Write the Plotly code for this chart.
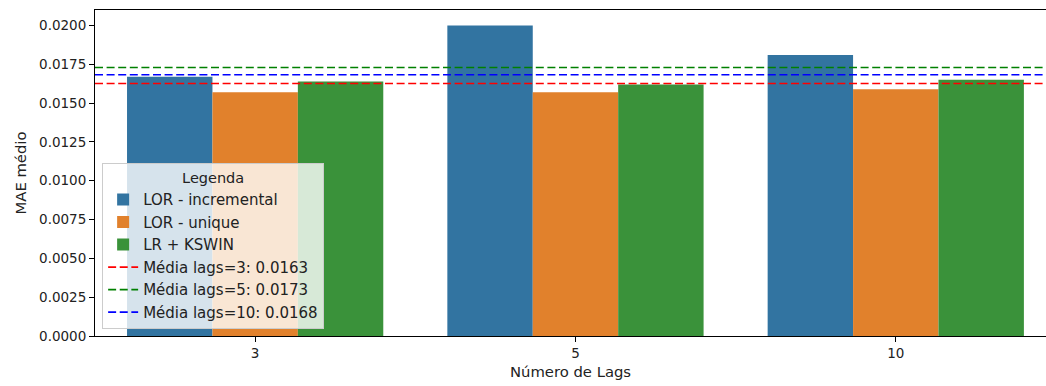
import numpy as np
import plotly.graph_objects as go

lags = ["3", "5", "10"]
series_names = ["LOR - incremental", "LOR - unique", "LR + KSWIN"]
lor_incremental = [0.0167, 0.0200, 0.0181]
lor_unique = [0.0157, 0.0157, 0.0159]
lr_kswin = [0.0164, 0.0162, 0.0165]
bar_colors = ["#3274a1", "#e1812c", "#3a923a"]
mean_colors = ["#ff0000", "#008000", "#0000ff"]

series = [lor_incremental, lor_unique, lr_kswin]

fig = go.Figure()
for name, vals, col in zip(series_names, series, bar_colors):
    fig.add_trace(go.Bar(x=lags, y=vals, name=name, marker=dict(color=col, line=dict(width=0))))

for i, (lag, col) in enumerate(zip(lags, mean_colors)):
    m = float(np.mean([s[i] for s in series]))
    fig.add_trace(go.Scatter(
        x=[0, 1], y=[m, m], xaxis="x2", mode="lines",
        line=dict(color=col, width=1.6, dash="8px,3.6px"),
        name=f"Média lags={lag}: {m:.4f}",
    ))

font = dict(family="DejaVu Sans", size=13.5, color="#222222")
fig.update_layout(
    width=1046, height=386,
    margin=dict(l=95, r=0, t=10, b=50),
    plot_bgcolor="white", paper_bgcolor="white",
    font=font,
    barmode="group", bargap=0.2, bargroupgap=0,
    showlegend=True,
    legend=dict(
        x=0.0075, y=0.02, xanchor="left", yanchor="bottom",
        bgcolor="rgba(255,255,255,0.8)", bordercolor="#cccccc", borderwidth=1,
        title=dict(text="Legenda", side="top center", font=dict(size=14.5)),
        font=dict(size=15), itemwidth=30, tracegroupgap=0,
    ),
    xaxis=dict(
        type="category", range=[-0.5, 2.469],
        showline=True, linecolor="black", linewidth=1, mirror=True,
        ticks="outside", ticklen=5, tickwidth=1, tickcolor="black",
        showgrid=False, zeroline=False,
        title=dict(text="Número de Lags", standoff=6, font=dict(size=14.8)),
    ),
    xaxis2=dict(overlaying="x", range=[0, 1], visible=False),
    yaxis=dict(
        range=[0, 0.021], dtick=0.0025, tickformat=".4f",
        showline=True, linecolor="black", linewidth=1,
        ticks="outside", ticklen=5, tickwidth=1, tickcolor="black",
        showgrid=False, zeroline=False,
        title=dict(text="MAE médio", standoff=8, font=dict(size=14.8)),
    ),
)

fig.write_html("out.html")
